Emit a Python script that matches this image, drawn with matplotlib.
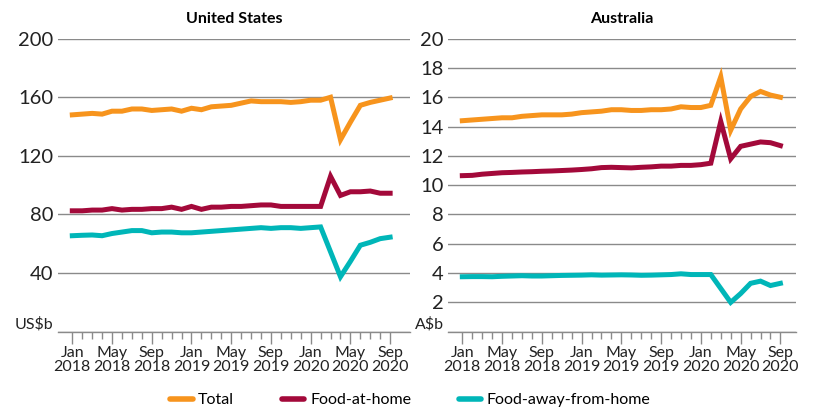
import numpy as np
import matplotlib
matplotlib.use('Agg')
import matplotlib.pyplot as plt
from matplotlib.lines import Line2D

plt.rcParams['font.family'] = ['Lato', 'DejaVu Sans']

# monthly, Jan 2018 .. Sep 2020
months = np.arange(33)
tick_pos = np.arange(0, 33, 4)
tick_labels = ['Jan\n2018', 'May\n2018', 'Sep\n2018', 'Jan\n2019', 'May\n2019',
               'Sep\n2019', 'Jan\n2020', 'May\n2020', 'Sep\n2020']

us_total = [148, 148.5, 149, 148.5, 150.5, 150.5, 152, 152, 151, 151.5, 152, 150.5,
            152.5, 151.5, 153.5, 154, 154.5, 156, 157.5, 157, 157, 157, 156.5, 157,
            158, 158, 160, 131, 143, 154.5, 156.5, 158, 159.5]
us_home = [82.5, 82.5, 83, 83, 84, 83, 83.5, 83.5, 84, 84, 85, 83.5,
           85.5, 83.5, 85, 85, 85.5, 85.5, 86, 86.5, 86.5, 85.5, 85.5, 85.5,
           85.5, 85.5, 106, 93, 95.5, 95.5, 96, 94.5, 94.5]
us_away = [65.5, 65.8, 66, 65.5, 67, 68, 69, 69, 67.5, 68, 68, 67.5,
           67.5, 68, 68.5, 69, 69.5, 70, 70.5, 71, 70.5, 71, 71, 70.5,
           71, 71.5, 54.5, 37.5, 48, 59, 61, 63.5, 64.5]

au_total = [14.4, 14.45, 14.5, 14.55, 14.6, 14.6, 14.7, 14.75, 14.8, 14.8, 14.8, 14.85,
            14.95, 15.0, 15.05, 15.15, 15.15, 15.1, 15.1, 15.15, 15.15, 15.2, 15.35, 15.3,
            15.3, 15.45, 17.4, 13.75, 15.2, 16.05, 16.4, 16.15, 16.0]
au_home = [10.65, 10.67, 10.75, 10.8, 10.85, 10.87, 10.9, 10.92, 10.95, 10.97, 11.0, 11.03,
           11.07, 11.12, 11.2, 11.22, 11.2, 11.18, 11.22, 11.25, 11.3, 11.3, 11.35, 11.35,
           11.4, 11.5, 14.35, 11.8, 12.65, 12.8, 12.95, 12.9, 12.7]
au_away = [3.75, 3.76, 3.76, 3.75, 3.78, 3.8, 3.82, 3.8, 3.8, 3.82, 3.84, 3.85,
           3.86, 3.88, 3.86, 3.87, 3.88, 3.87, 3.85, 3.86, 3.88, 3.9, 3.95, 3.9,
           3.9, 3.9, 2.95, 2.0, 2.6, 3.3, 3.45, 3.15, 3.3]

col_total = '#f7941d'
col_home = '#a3093a'
col_away = '#00b6b8'
grid_col = '#8a8a8a'

fig = plt.figure(figsize=(8.16, 4.18), dpi=100)
ax1 = fig.add_axes([57.7 / 816, 0.2065, (410 - 57.7) / 816, 0.701])
ax2 = fig.add_axes([448 / 816, 0.2065, (796 - 448) / 816, 0.701])


def style_axis(ax, title, ymax, step, unit, xlim):
    ax.set_xlim(*xlim)
    ax.set_ylim(0, ymax)
    yt = np.arange(0, ymax + step / 2, step)
    ax.set_yticks(yt)
    labels = [unit] + [f'{v:g}' for v in yt[1:]]
    ax.set_yticklabels(labels)
    for lab in ax.get_yticklabels():
        lab.set_fontsize(14.5)
    ax.get_yticklabels()[0].set_fontsize(11.5)
    ax.get_yticklabels()[0].set_verticalalignment('bottom')
    ax.tick_params(axis='y', length=0, pad=3, colors='#222222')
    ax.yaxis.grid(True, color=grid_col, linewidth=1)
    ax.set_axisbelow(True)
    for s in ['top', 'right', 'left']:
        ax.spines[s].set_visible(False)
    ax.spines['bottom'].set_color(grid_col)
    ax.spines['bottom'].set_linewidth(1)
    ax.set_xticks(tick_pos)
    ax.set_xticklabels(tick_labels, fontsize=11.5, linespacing=1.0)
    ax.set_xticks(months, minor=True)
    ax.tick_params(axis='x', which='major', length=8.5, width=1, color=grid_col,
                   direction='out', pad=1.5, labelcolor='#222222')
    ax.tick_params(axis='x', which='minor', length=5.3, width=1, color=grid_col,
                   direction='out')
    ax.set_title(title, fontsize=11.5, fontweight='bold', pad=11)


lw = 3.6
ax1.plot(months, us_total, color=col_total, lw=lw, solid_joinstyle='miter')
ax1.plot(months, us_home, color=col_home, lw=lw, solid_joinstyle='miter')
ax1.plot(months, us_away, color=col_away, lw=lw, solid_joinstyle='miter')
style_axis(ax1, 'United States', 200, 40, 'US$b', (-1.47, 34.0))

ax2.plot(months, au_total, color=col_total, lw=lw, solid_joinstyle='miter')
ax2.plot(months, au_home, color=col_home, lw=lw, solid_joinstyle='miter')
ax2.plot(months, au_away, color=col_away, lw=lw, solid_joinstyle='miter')
style_axis(ax2, 'Australia', 20, 2, 'A$b', (-1.44, 33.57))

handles = [Line2D([], [], color=c, lw=4, solid_capstyle='round')
           for c in (col_total, col_home, col_away)]
fig.legend(handles, ['Total', 'Food-at-home', 'Food-away-from-home'],
           loc='center', bbox_to_anchor=(0.503, 0.043), ncol=3, frameon=False,
           fontsize=11.5, handlelength=1.4, handletextpad=0.35, columnspacing=3.0)

fig.savefig('out.png', dpi=100)
